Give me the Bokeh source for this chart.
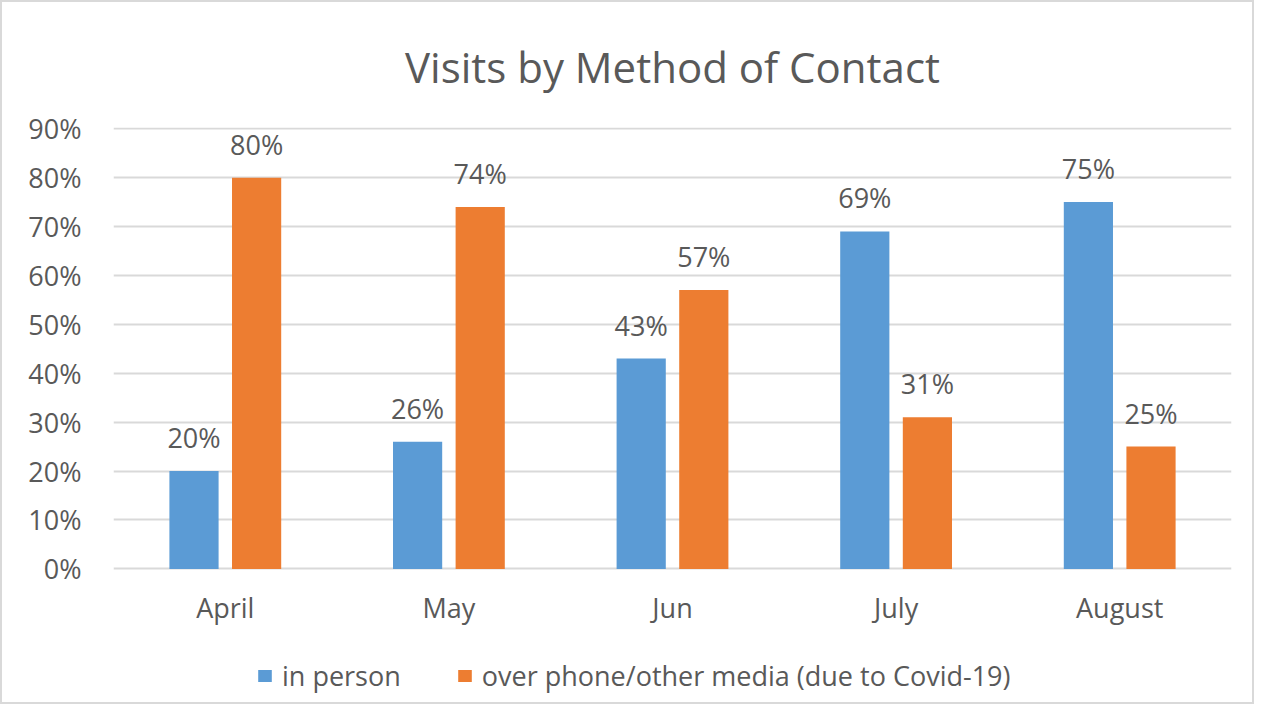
from bokeh.plotting import figure
from bokeh.models import ColumnDataSource, NumeralTickFormatter, Legend, LegendItem, FixedTicker, Range1d
from bokeh.transform import dodge
from bokeh.core.properties import value
from bokeh.embed import file_html
from bokeh.resources import INLINE

months = ["April", "May", "Jun", "July", "August"]
in_person = [0.20, 0.26, 0.43, 0.69, 0.75]
over_phone = [0.80, 0.74, 0.57, 0.31, 0.25]
y_ticks = [0.0, 0.1, 0.2, 0.3, 0.4, 0.5, 0.6, 0.7, 0.8, 0.9]

FONT = "Open Sans"
TXT = "#595959"
BLUE = "#5B9BD5"
ORANGE = "#ED7D31"

src = ColumnDataSource(dict(
    month=months,
    inp=in_person,
    oph=over_phone,
    inp_lbl=[f"{round(v*100)}%" for v in in_person],
    oph_lbl=[f"{round(v*100)}%" for v in over_phone],
    lab_y=[-0.079] * len(months),
))

p = figure(x_range=months, y_range=Range1d(-0.265, 0.9025), width=1254, height=704,
           output_backend="svg", toolbar_location=None,
           min_border_left=111, min_border_right=25, min_border_top=123, min_border_bottom=8)
p.styles = {"border": "2px solid #d9d9d9"}

p.title.text = "Visits by Method of Contact"
p.title.align = "center"
p.title.text_font = FONT
p.title.text_font_size = "42px"
p.title.text_font_style = "normal"
p.title.text_color = TXT
p.title.standoff = 66

r1 = p.vbar(x=dodge("month", -0.14, range=p.x_range), top="inp", width=0.22, source=src,
            fill_color=BLUE, line_color=None)
r2 = p.vbar(x=dodge("month", 0.14, range=p.x_range), top="oph", width=0.22, source=src,
            fill_color=ORANGE, line_color=None)

p.text(x=dodge("month", -0.14, range=p.x_range), y="inp", text="inp_lbl", source=src,
       text_align="center", text_baseline="bottom", y_offset=-15,
       text_font=value(FONT), text_font_size="27px", text_color=TXT)
p.text(x=dodge("month", 0.14, range=p.x_range), y="oph", text="oph_lbl", source=src,
       text_align="center", text_baseline="bottom", y_offset=-15,
       text_font=value(FONT), text_font_size="27px", text_color=TXT)

# category labels under the bars
p.text(x="month", y="lab_y", text="month", source=src,
       text_align="center", text_baseline="middle",
       text_font=value(FONT), text_font_size="27px", text_color=TXT)

p.outline_line_color = None
p.xgrid.grid_line_color = None
p.ygrid.grid_line_color = "#d9d9d9"
p.ygrid.grid_line_width = 2
p.yaxis.ticker = FixedTicker(ticks=y_ticks)
p.yaxis.formatter = NumeralTickFormatter(format="0%")
p.xaxis.visible = False

ax = p.yaxis[0]
ax.axis_line_color = None
ax.major_tick_line_color = None
ax.minor_tick_line_color = None
ax.major_label_text_font = FONT
ax.major_label_text_font_size = "27px"
ax.major_label_text_color = TXT
ax.major_label_standoff = 26

legend = Legend(items=[
    LegendItem(label="in person", renderers=[r1]),
    LegendItem(label="over phone/other media (due to Covid-19)", renderers=[r2]),
], orientation="horizontal", location=(143, 4))
legend.label_text_font = FONT
legend.label_text_font_size = "27px"
legend.label_text_color = TXT
legend.glyph_width = 17
legend.glyph_height = 15
legend.label_standoff = 9
legend.spacing = 55
legend.border_line_color = None
legend.background_fill_alpha = 0
legend.margin = 0
legend.padding = 0
p.add_layout(legend, "center")

open("out.html", "w").write(file_html(p, INLINE))
